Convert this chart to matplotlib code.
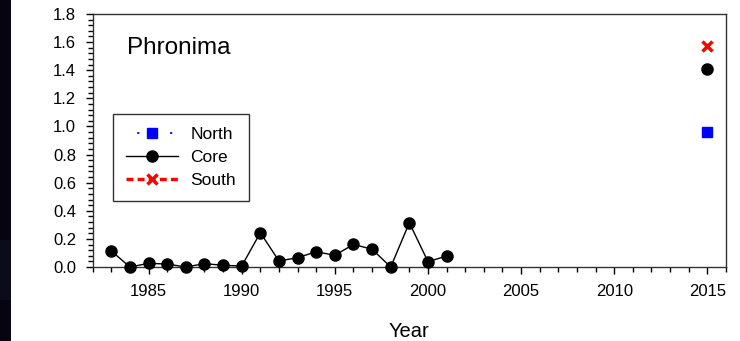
import numpy as np
import matplotlib
matplotlib.use("Agg")
import matplotlib.pyplot as plt
from matplotlib.ticker import MultipleLocator, FormatStrFormatter
from matplotlib.patches import Rectangle

plt.rcParams['font.family'] = ['Liberation Sans', 'DejaVu Sans']

# Core series, annual survey 1983-2001
core_years = [1983, 1984, 1985, 1986, 1987, 1988, 1989, 1990, 1991, 1992,
              1993, 1994, 1995, 1996, 1997, 1998, 1999, 2000, 2001]
core_values = [0.114, 0.0, 0.026, 0.021, 0.0, 0.024, 0.012, 0.007, 0.244, 0.043,
               0.066, 0.109, 0.083, 0.161, 0.126, 0.0, 0.315, 0.038, 0.078]

# 2015 resurvey, one value per region
recent_year = [2015]
north_recent = [0.962]
core_recent = [1.408]
south_recent = [1.572]

title_text = "Phronima"
x_label = "Year"

fig = plt.figure(figsize=(7.40, 3.41), dpi=100)
ax = fig.add_axes([92.7 / 740, 1 - 267 / 341, (726 - 92.7) / 740, (267 - 14) / 341])

# dark strip on the left edge
fig.patches.append(Rectangle((0, 0), 11 / 740, 1, transform=fig.transFigure,
                             facecolor='#05040f', edgecolor='none', zorder=0))
fig.patches.append(Rectangle((0, 1 - 300 / 341), 11 / 740, 60 / 341,
                             transform=fig.transFigure,
                             facecolor='#0b0c19', edgecolor='none', zorder=0))

ms = 8
# North
ax.plot(recent_year, north_recent, linestyle=(12, (1.2, 17)), color='blue', lw=1.3,
        marker='s', ms=ms - 0.5, mfc='blue', mec='blue', label='North',
        clip_on=False, zorder=4)
# Core
ax.plot(core_years, core_values, '-', color='black', lw=1, marker='o', ms=ms,
        mfc='black', mec='black', label='Core', clip_on=False, zorder=5)
ax.plot(recent_year, core_recent, linestyle='none', marker='o', ms=ms,
        mfc='black', mec='black', clip_on=False, zorder=5)
# South
ax.plot(recent_year, south_recent, linestyle=(0, (2, 1.2)), color='red', lw=2.5,
        marker='x', ms=ms - 1.5, mew=2.5, mec='red', label='South',
        clip_on=False, zorder=4)

ax.set_xlim(1982, 2016)
ax.set_ylim(0, 1.8)
ax.xaxis.set_major_locator(MultipleLocator(5))
ax.xaxis.set_minor_locator(MultipleLocator(1))
ax.yaxis.set_major_locator(MultipleLocator(0.2))
ax.yaxis.set_minor_locator(MultipleLocator(0.04))
ax.yaxis.set_major_formatter(FormatStrFormatter('%.1f'))
ax.tick_params(which='major', direction='out', length=5, width=1, labelsize=12,
               top=False, right=False)
ax.tick_params(axis='x', which='major', pad=7)
ax.tick_params(axis='y', which='major', pad=7)
ax.tick_params(which='minor', direction='out', length=3.5, width=1,
               top=False, right=False)
for s in ax.spines.values():
    s.set_linewidth(1)
    s.set_color('#333333')

ax.set_xlabel(x_label, fontsize=14.5, labelpad=17)
ax.text(0.054, 0.865, title_text, transform=ax.transAxes, fontsize=17.5,
        ha='left', va='center')

leg = ax.legend(loc='upper left', bbox_to_anchor=(0.032, 0.605), fontsize=12.5,
                frameon=True, fancybox=False, edgecolor='black',
                handlelength=3.0, handletextpad=0.7, borderpad=0.75,
                labelspacing=0.45, borderaxespad=0)
leg.get_frame().set_linewidth(1)

fig.savefig('out.png', dpi=100)
